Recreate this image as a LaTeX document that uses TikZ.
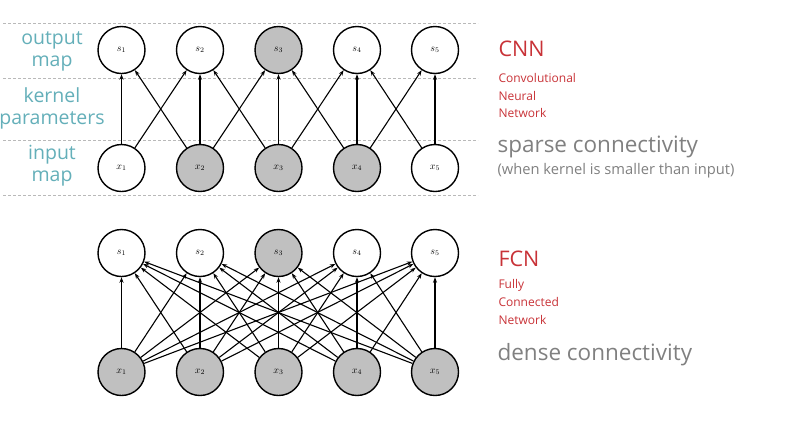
\documentclass[tikz,border=0pt]{standalone}
\usepackage{fontspec}
\setmainfont{Open Sans}
\usetikzlibrary{arrows.meta}
\definecolor{teal1}{RGB}{100,175,185}
\definecolor{red1}{RGB}{200,50,55}
\definecolor{gray1}{RGB}{128,128,128}
\definecolor{fillg}{RGB}{192,192,192}
\begin{document}
\begin{tikzpicture}[x=1pt,y=-1pt,
  unit/.style={circle,draw,line width=1.4pt,minimum size=47pt,inner sep=0pt,font=\fontsize{10}{10}\selectfont},
  shaded/.style={unit,fill=fillg},
  conn/.style={-{Stealth[length=5.5pt,width=4pt]},line width=1.1pt},
  sep/.style={gray!55,line width=0.9pt,dash pattern=on 3pt off 2pt},
  lab/.style={teal1,font=\fontsize{19.5}{22}\selectfont,align=center},
  big/.style={red1,font=\fontsize{21.5}{24}\selectfont,anchor=west},
  small/.style={red1,font=\fontsize{12}{14}\selectfont,anchor=west},
  desc/.style={gray1,font=\fontsize{22.5}{26}\selectfont,anchor=west},
  note/.style={gray1,font=\fontsize{14.7}{17}\selectfont,anchor=west}]
\useasboundingbox (0,0) rectangle (799,421);
% separators
\coordinate (d1a) at (3,23); \coordinate (d1b) at (478,23);
\coordinate (d2a) at (3,78); \coordinate (d2b) at (478,78);
\coordinate (d3a) at (3,140); \coordinate (d3b) at (478,140);
\coordinate (d4a) at (3,195); \coordinate (d4b) at (478,195);
\draw[sep] (d1a) -- (d1b);
\draw[sep] (d2a) -- (d2b);
\draw[sep] (d3a) -- (d3b);
\draw[sep] (d4a) -- (d4b);
% labels
\node[lab] (lout) at (52,51) {output\\map};
\node[lab] (lker) at (52,108) {kernel\\parameters};
\node[lab] (linp) at (52,166) {input\\map};
% CNN nodes
\node[unit]   (s1) at (121.5,50) {$s_1$};
\node[unit]   (s2) at (200,50) {$s_2$};
\node[shaded] (s3) at (278.5,50) {$s_3$};
\node[unit]   (s4) at (357,50) {$s_4$};
\node[unit]   (s5) at (435,50) {$s_5$};
\node[unit]   (x1) at (121.5,168) {$x_1$};
\node[shaded] (x2) at (200,168) {$x_2$};
\node[shaded] (x3) at (278.5,168) {$x_3$};
\node[shaded] (x4) at (357,168) {$x_4$};
\node[unit]   (x5) at (435,168) {$x_5$};
\foreach \i in {1,...,5}{ \draw[conn] (x\i) -- (s\i); }
\foreach \i/\j in {1/2,2/3,3/4,4/5}{ \draw[conn] (x\i) -- (s\j); \draw[conn] (x\j) -- (s\i); }
% FCN nodes
\node[unit]   (t1) at (121.5,253) {$s_1$};
\node[unit]   (t2) at (200,253) {$s_2$};
\node[shaded] (t3) at (278.5,253) {$s_3$};
\node[unit]   (t4) at (357,253) {$s_4$};
\node[unit]   (t5) at (435,253) {$s_5$};
\node[shaded] (y1) at (121.5,372) {$x_1$};
\node[shaded] (y2) at (200,372) {$x_2$};
\node[shaded] (y3) at (278.5,372) {$x_3$};
\node[shaded] (y4) at (357,372) {$x_4$};
\node[shaded] (y5) at (435,372) {$x_5$};
\foreach \i in {1,...,5}{ \foreach \j in {1,...,5}{ \draw[conn] (y\i) -- (t\j); } }
% right texts
\node[big]   (cnn) at (495,49) {CNN};
\node[small] (c1) at (495,78) {Convolutional};
\node[small] (c2) at (495,95.5) {Neural};
\node[small] (c3) at (495,113) {Network};
\node[desc]  (sp) at (494,147) {sparse connectivity};
\node[note]  (wh) at (494,171) {(when kernel is smaller than input)};
\node[big]   (fcn) at (495,259) {FCN};
\node[small] (f1) at (495,285) {Fully};
\node[small] (f2) at (495,302) {Connected};
\node[small] (f3) at (495,320) {Network};
\node[desc]  (de) at (494,355) {dense connectivity};
\end{tikzpicture}
\end{document}
